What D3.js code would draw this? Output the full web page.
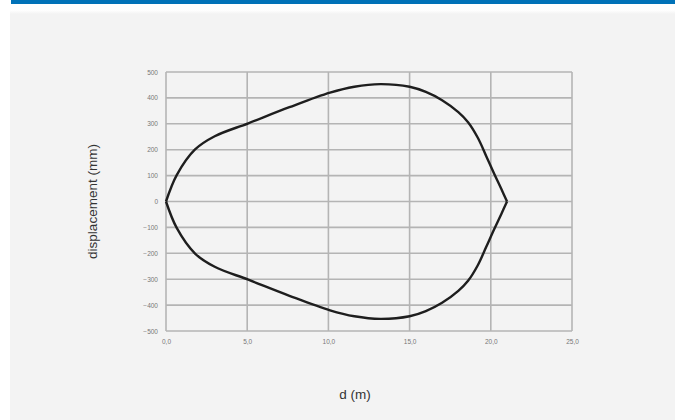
<!DOCTYPE html>
<html>
<head>
<meta charset="utf-8">
<script src="https://cdn.jsdelivr.net/npm/d3@7"></script>
<style>
	body { margin: 0; background: #fff; }
	svg { display: block; font-family: "Liberation Sans", Arial, sans-serif; }
</style>
</head>
<body>
<svg id="chart" width="675" height="420"></svg>
<script>
// distance along span (m) and displacement envelope (mm)
const dist =  [0, 0.66, 1.79, 3.0, 5.07, 7.6, 10.1, 11.6, 13.2, 15.0, 16.0, 17.0, 18.0, 18.6, 19.2, 19.7, 20.2, 20.65, 21.0]
const upper = [0, 102, 201, 252, 302, 364, 420, 443, 453, 443, 423, 391, 345, 306, 246, 178, 108, 48, 0]
const lower = upper.map(v => -v) // the envelope is symmetric

const xTicks = [0, 5, 10, 15, 20, 25]
const yTicks = [500, 400, 300, 200, 100, 0, -100, -200, -300, -400, -500]

const svg = d3.select('#chart')
const W = 675, H = 420

// page chrome: blue strip and grey panel
const defs = svg.append('defs')
const grad = defs.append('linearGradient').attr('id', 'shade').attr('x1', 0).attr('x2', 0).attr('y1', 0).attr('y2', 1)
grad.append('stop').attr('offset', 0).attr('stop-color', '#ffffff')
grad.append('stop').attr('offset', 1).attr('stop-color', '#f3f3f3')

svg.append('rect').attr('x', 11).attr('y', 0).attr('width', W - 11).attr('height', 4).attr('fill', '#0072b8')
svg.append('rect').attr('x', 10).attr('y', 10).attr('width', W - 10).attr('height', H - 10).attr('fill', '#f3f3f3')
svg.append('rect').attr('x', 10).attr('y', 10).attr('width', W - 10).attr('height', 4).attr('fill', 'url(#shade)')

const m = { left: 166, right: 572, top: 72, bottom: 331 }

const x = d3.scaleLinear().domain([0, 25]).range([m.left, m.right])
const y = d3.scaleLinear().domain([-500, 500]).range([m.bottom, m.top])

const grid = svg.append('g').attr('stroke', '#b4b4b4').attr('stroke-width', 1.6)
grid.selectAll('.v').data(xTicks).join('line')
	.attr('x1', d => x(d)).attr('x2', d => x(d))
	.attr('y1', m.top).attr('y2', m.bottom)
grid.selectAll('.h').data(yTicks).join('line')
	.attr('x1', m.left).attr('x2', m.right)
	.attr('y1', d => y(d)).attr('y2', d => y(d))

const fmt = d => d3.format('.1f')(d).replace('.', ',')

const xAxis = svg.append('g')
	.attr('transform', `translate(0,${m.bottom})`)
	.call(d3.axisBottom(x).tickValues(xTicks).tickFormat(fmt).tickSize(0).tickPadding(8))
const yAxis = svg.append('g')
	.attr('transform', `translate(${m.left},0)`)
	.call(d3.axisLeft(y).tickValues(yTicks).tickFormat(d3.format('d')).tickSize(0).tickPadding(8))

for (const a of [xAxis, yAxis]) {
	a.select('.domain').remove()
	a.selectAll('text').attr('fill', '#777').style('font-size', '6.5px').style('font-family', '"Liberation Sans", Arial, sans-serif')
}

const pts = vals => dist.map((d, i) => [d, vals[i]])
const line = d3.line().x(d => x(d[0])).y(d => y(d[1])).curve(d3.curveCatmullRom.alpha(0.5))

svg.append('g').selectAll('path').data([pts(upper), pts(lower)]).join('path')
	.attr('d', line)
	.attr('fill', 'none')
	.attr('stroke', '#1e1e1e')
	.attr('stroke-width', 2.4)
	.attr('stroke-linejoin', 'round')

svg.append('text')
	.attr('transform', `translate(97,${(m.top + m.bottom) / 2}) rotate(-90)`)
	.attr('text-anchor', 'middle')
	.attr('fill', '#333')
	.style('font-size', '13.5px')
	.text('displacement (mm)')

svg.append('text')
	.attr('x', 355).attr('y', 399)
	.attr('text-anchor', 'middle')
	.attr('fill', '#333')
	.style('font-size', '13.5px')
	.text('d (m)')
</script>
</body>
</html>
